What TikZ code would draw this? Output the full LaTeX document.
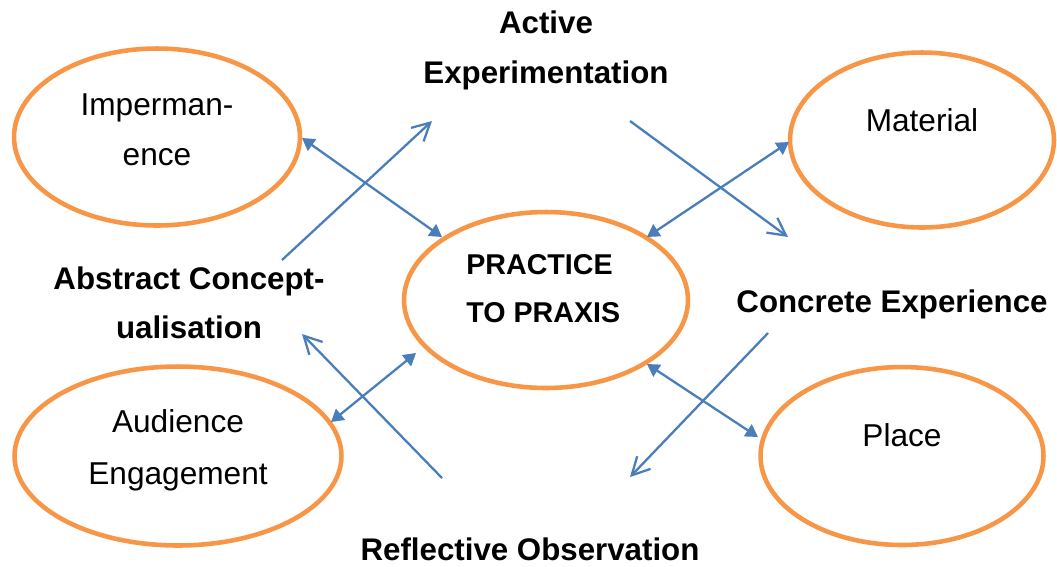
\documentclass[tikz,border=0pt]{standalone}
\usepackage{fontspec}
\setmainfont{Liberation Sans}
\usetikzlibrary{shapes.geometric,arrows.meta,calc}
\definecolor{ellorange}{HTML}{F79646}
\definecolor{arrblue}{HTML}{4A7EBB}
\begin{document}
\begin{tikzpicture}[x=0.02cm,y=-0.02cm,
 ell/.style={ellipse,draw=ellorange,line width=2.6pt,inner sep=0pt},
 txt/.style={anchor=base,align=center,inner sep=0pt},
 bold/.style={anchor=base,align=center,inner sep=0pt},
 cyc/.style={draw=arrblue,line width=1.3pt,-{Straight Barb[length=10pt,width=10.5pt]}},
 link/.style={draw=arrblue,line width=1.3pt,{Triangle[length=7pt,width=8pt]}-{Triangle[length=7pt,width=8pt]}}
]
\useasboundingbox (0,0) rectangle (1057,566);
% ellipses
\node[ell,minimum width=5.72cm,minimum height=3.54cm] (imp) at (157,137) {};
\node[ell,minimum width=5.28cm,minimum height=3.50cm] (mat) at (922,140) {};
\node[ell,minimum width=5.68cm,minimum height=3.52cm] (prac) at (546,300) {};
\node[ell,minimum width=6.54cm,minimum height=3.58cm] (aud) at (178,456) {};
\node[ell,minimum width=5.66cm,minimum height=3.56cm] (place) at (902,456) {};
% ellipse texts (base anchor = baseline of last line)
\node[txt,font=\fontsize{18}{28.4}\selectfont] (impt) at (157,165) {Imperman-\\ence};
\node[txt,font=\fontsize{18}{28.4}\selectfont] (matt) at (922,131) {Material};
\node[anchor=base west,align=left,inner sep=0pt,font=\fontsize{16.3}{27.2}\selectfont\bfseries] (pract) at (466,322) {PRACTICE\\TO PRAXIS};
\node[txt,font=\fontsize{18}{29.5}\selectfont] (audt) at (178,484) {Audience\\Engagement};
\node[txt,font=\fontsize{18}{28.4}\selectfont] (placet) at (902,446) {Place};
% cycle labels
\node[bold,font=\fontsize{17.8}{28.4}\selectfont\bfseries] (ae) at (546,83) {Active\\Experimentation};
\node[bold,font=\fontsize{17.8}{27.8}\selectfont\bfseries] (ac) at (189,338) {Abstract Concept-\\ualisation};
\node[bold,font=\fontsize{17.8}{28.4}\selectfont\bfseries] (ce) at (892,312) {Concrete Experience};
\node[bold,font=\fontsize{17.8}{28.4}\selectfont\bfseries] (ro) at (530,560) {Reflective Observation};
% cycle arrows
\coordinate (a1s) at (282,260); \coordinate (a1e) at (432,121);
\coordinate (a2s) at (630,121); \coordinate (a2e) at (788,237);
\coordinate (a3s) at (768,333); \coordinate (a3e) at (630,477);
\coordinate (a4s) at (442,478); \coordinate (a4e) at (302,334);
\draw[cyc] (a1s) -- (a1e);
\draw[cyc] (a2s) -- (a2e);
\draw[cyc] (a3s) -- (a3e);
\draw[cyc] (a4s) -- (a4e);
% links to practice
\draw[link] ($(imp.center)+(145,1)$) -- ($(prac.center)+(-104,-63)$);
\draw[link] ($(mat.center)+(-133,2)$) -- ($(prac.center)+(101,-63)$);
\draw[link] ($(prac.center)+(-130,53)$) -- ($(aud.center)+(153,-34)$);
\draw[link] ($(prac.center)+(101,64)$) -- ($(place.center)+(-144,-19)$);
\end{tikzpicture}
\end{document}
